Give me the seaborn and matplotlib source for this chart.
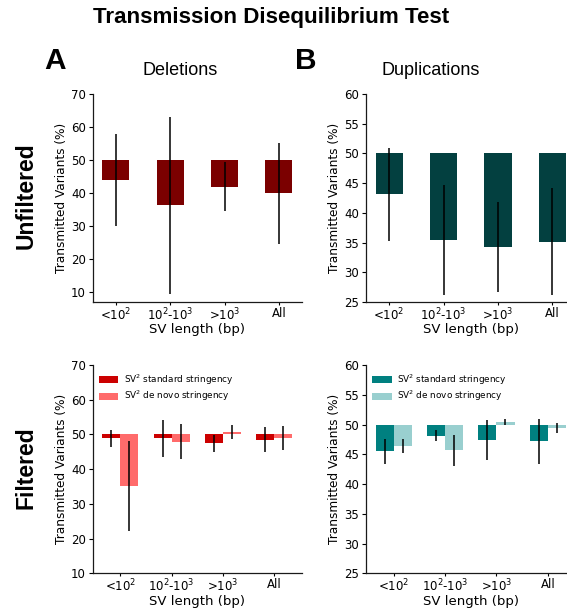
import numpy as np
import pandas as pd
import matplotlib
matplotlib.use("Agg")
import matplotlib.pyplot as plt
from matplotlib.container import BarContainer
import seaborn as sns

# ---- data -------------------------------------------------------------
size_bins = [r"<$10^2$", r"$10^2$-$10^3$", r">$10^3$", "All"]

# unfiltered: transmitted fraction (%) and error half-width
del_unf = [44.0, 36.25, 41.9, 39.9]
del_unf_err = [14.0, 26.75, 7.4, 15.25]
dup_unf = [43.1, 35.45, 34.25, 35.15]
dup_unf_err = [7.8, 9.25, 7.65, 8.95]

# filtered: standard vs de novo stringency
del_std = [48.85, 48.85, 47.4, 48.4]
del_std_err = [2.45, 5.25, 2.35, 3.6]
del_dn = [35.25, 47.95, 50.6, 49.05]
del_dn_err = [12.95, 5.05, 2.0, 3.45]
dup_std = [45.5, 48.15, 47.4, 47.2]
dup_std_err = [2.1, 0.95, 3.3, 3.8]
dup_dn = [46.4, 45.65, 50.45, 49.4]
dup_dn_err = [1.2, 2.65, 0.55, 0.85]

stringency = ["SV$^2$ standard stringency", "SV$^2$ de novo stringency"]

BASE = 50.0

sns.set_theme(style="ticks")
plt.rcParams["font.family"] = ["DejaVu Sans"]
plt.rcParams.update({
    "axes.edgecolor": "0.1",
    "text.color": "black",
    "axes.labelcolor": "black",
    "xtick.color": "black",
    "ytick.color": "black",
    "xtick.major.size": 2.5,
    "ytick.major.size": 3,
})

W, H = 567, 611
fig = plt.figure(figsize=(W / 100, H / 100), dpi=100)


def px_axes(x0, y0, x1, y1):
    return fig.add_axes([x0 / W, 1 - y1 / H, (x1 - x0) / W, (y1 - y0) / H])


ax_du = px_axes(92.7, 94, 302, 302)
ax_pu = px_axes(366, 94, 575.5, 302)
ax_df = px_axes(92.7, 365, 302, 573.3)
ax_pf = px_axes(366, 365, 575.5, 573.3)

TICK_FS = 8.5
ERR_KW = dict(fmt="none", ecolor="black", elinewidth=1.1, capsize=0, zorder=5)
BAR_KW = dict(errorbar=None, saturation=1, linewidth=0, bottom=BASE)


def single_panel(ax, vals, errs, color, ylim, yticks):
    df = pd.DataFrame({"bin": size_bins, "delta": np.array(vals) - BASE})
    sns.barplot(data=df, x="bin", y="delta", color=color, width=0.5,
                ax=ax, **BAR_KW)
    ax.errorbar(np.arange(len(vals)), vals, yerr=errs, **ERR_KW)
    ax.set_xlim(-0.425, 3.425)
    ax.set_ylim(*ylim)
    ax.set_yticks(yticks)


def paired_panel(ax, std, std_err, dn, dn_err, colors, ylim, yticks):
    df = pd.DataFrame({
        "bin": size_bins * 2,
        "level": [stringency[0]] * 4 + [stringency[1]] * 4,
        "delta": np.r_[std, dn] - BASE,
    })
    sns.barplot(data=df, x="bin", y="delta", hue="level", palette=colors,
                width=0.7, ax=ax, legend=False, **BAR_KW)
    handles = [c.patches[0] for c in ax.containers if isinstance(c, BarContainer)]
    x = np.arange(len(std))
    ax.errorbar(x - 0.175, std, yerr=std_err, **ERR_KW)
    ax.errorbar(x + 0.175, dn, yerr=dn_err, **ERR_KW)
    ax.set_xlim(-0.535, 3.535)
    ax.set_ylim(*ylim)
    ax.set_yticks(yticks)
    ax.legend(handles, stringency, loc="upper left", frameon=False,
              fontsize=6.4, bbox_to_anchor=(0.0, 0.995), handlelength=2.2,
              handleheight=0.8, labelspacing=0.25, borderaxespad=0.3,
              handletextpad=0.6)


single_panel(ax_du, del_unf, del_unf_err, "#7b0000", (7, 70), range(10, 71, 10))
single_panel(ax_pu, dup_unf, dup_unf_err, "#034040", (25, 60), range(25, 61, 5))
paired_panel(ax_df, del_std, del_std_err, del_dn, del_dn_err,
             ["#cc0000", "#ff6b6b"], (10, 70), range(10, 71, 10))
paired_panel(ax_pf, dup_std, dup_std_err, dup_dn, dup_dn_err,
             ["#008080", "#99cfcf"], (25, 60), range(25, 61, 5))

for ax in (ax_du, ax_pu, ax_df, ax_pf):
    sns.despine(ax=ax)
    ax.set_xlabel("SV length (bp)", fontsize=9.5, labelpad=0)
    ax.set_ylabel("Transmitted Variants (%)", fontsize=8.7, labelpad=2)
    ax.tick_params(labelsize=TICK_FS, width=0.8)
    ax.tick_params(axis="x", pad=1)
    ax.tick_params(axis="y", pad=2)
    for s in ax.spines.values():
        s.set_linewidth(0.9)

HEAD = ["Liberation Sans", "DejaVu Sans"]
fig.text(270.7 / W, 1 - 23 / H, "Transmission Disequilibrium Test",
         ha="center", va="baseline", fontsize=16.1, fontweight="bold", family=HEAD)
fig.text(55 / W, 1 - 69 / H, "A", ha="center", va="baseline",
         fontsize=21.5, fontweight="bold", family=HEAD)
fig.text(306 / W, 1 - 69 / H, "B", ha="center", va="baseline",
         fontsize=21.5, fontweight="bold", family=HEAD)
fig.text(180.5 / W, 1 - 75 / H, "Deletions", ha="center", va="baseline",
         fontsize=13, family=HEAD)
fig.text(431 / W, 1 - 75 / H, "Duplications", ha="center", va="baseline",
         fontsize=13, family=HEAD)
fig.text(33 / W, 1 - 196 / H, "Unfiltered", ha="center", va="baseline",
         rotation=90, rotation_mode="anchor", fontsize=16.5,
         fontweight="bold", family=HEAD)
fig.text(32.5 / W, 1 - 468 / H, "Filtered", ha="center", va="baseline",
         rotation=90, rotation_mode="anchor", fontsize=16.5,
         fontweight="bold", family=HEAD)

fig.savefig("out.png", dpi=100)
